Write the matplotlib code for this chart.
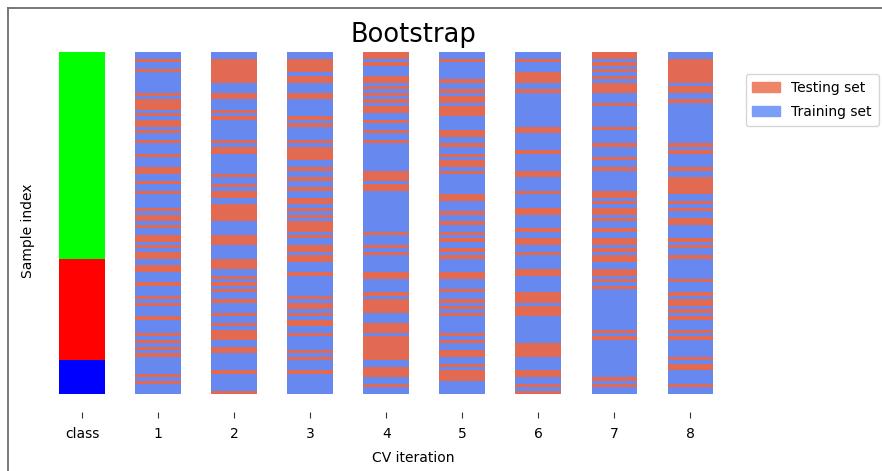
import numpy as np
import matplotlib
matplotlib.use('Agg')
import matplotlib.pyplot as plt
from matplotlib.colors import Normalize
from matplotlib.lines import Line2D
from matplotlib.patches import Patch

n_samples = 100
class_sizes = [10, 30, 60]
fold_labels = ['1', '2', '3', '4', '5', '6', '7', '8']

# out-of-bag (testing) sample indices for each bootstrap iteration
test_fold1 = [98, 95, 88, 86, 85, 84, 82, 80, 79, 77, 74, 70, 66, 65, 62, 59, 54, 52, 51,
              49, 46, 45, 43, 41, 40, 37, 36, 32, 28, 26, 22, 17, 15, 13, 11, 5, 3]
test_fold2 = [98, 97, 96, 95, 94, 93, 92, 88, 87, 83, 81, 74, 72, 71, 64, 61, 59, 58, 55,
              54, 53, 52, 51, 46, 45, 44, 39, 38, 37, 34, 32, 30, 27, 23, 20, 18, 17, 16,
              13, 12, 6, 0]
test_fold3 = [98, 97, 96, 95, 93, 92, 88, 87, 81, 79, 74, 72, 71, 70, 69, 66, 63, 60, 57,
              56, 54, 52, 50, 49, 48, 46, 43, 42, 40, 39, 35, 28, 26, 25, 23, 21, 20, 17,
              12, 10, 6]
test_fold4 = [99, 97, 93, 92, 90, 88, 86, 84, 83, 80, 77, 74, 65, 64, 63, 61, 60, 47, 43,
              41, 35, 34, 29, 27, 26, 25, 24, 20, 19, 18, 16, 15, 14, 13, 12, 11, 10, 7,
              6, 5, 2]
test_fold5 = [98, 92, 89, 87, 86, 84, 83, 82, 77, 76, 73, 70, 68, 67, 65, 58, 57, 53, 50,
              47, 45, 42, 40, 35, 34, 30, 27, 25, 23, 17, 15, 12, 11, 8, 6, 5, 4]
test_fold6 = [98, 94, 93, 92, 89, 78, 77, 71, 65, 64, 59, 54, 53, 48, 45, 44, 41, 36, 35,
              29, 28, 27, 25, 24, 23, 14, 13, 12, 11, 6, 5, 2, 0]
test_fold7 = [99, 97, 95, 93, 91, 90, 89, 85, 78, 73, 69, 66, 59, 58, 56, 54, 53, 51, 48,
              45, 44, 42, 40, 39, 36, 35, 33, 31, 18, 16, 4, 2]
test_fold8 = [98, 97, 96, 95, 94, 93, 92, 90, 89, 86, 73, 71, 66, 63, 62, 61, 60, 59, 56,
              54, 51, 50, 45, 43, 40, 33, 29, 27, 26, 24, 22, 18, 16, 10, 8, 7, 2]

test_folds = [test_fold1, test_fold2, test_fold3, test_fold4,
              test_fold5, test_fold6, test_fold7, test_fold8]

cmap_cv = plt.cm.coolwarm
cmap_data = plt.cm.brg
norm_cv = Normalize(vmin=-.2, vmax=1.2)

W, H = 882, 471
fig = plt.figure(figsize=(W / 100, H / 100), dpi=100)
ax = fig.add_axes([39 / W, 1 - 412 / H, (787 - 39) / W, (412 - 50) / H])

idx = np.arange(n_samples)
bar_w = 0.6

# class column: each sample drawn as a 2-unit band, later samples on top
groups = np.repeat(np.arange(len(class_sizes)), class_sizes)
ax.bar(np.zeros(n_samples), 2, bottom=idx - 1, width=bar_w,
       color=cmap_data(groups / 2), linewidth=0)

for ii, tt in enumerate(test_folds):
    indices = np.zeros(n_samples)
    indices[tt] = 1
    ax.bar(np.full(n_samples, ii + 1), 2, bottom=idx - 1, width=bar_w,
           color=cmap_cv(norm_cv(indices)), linewidth=0)

ax.set_xlim(-0.565, 9.27)
ax.set_ylim(-6.3, 100.6)
ax.set_xticks(range(len(fold_labels) + 1))
ax.set_xticklabels(['class'] + fold_labels, fontsize=10)
ax.tick_params(axis='x', length=4.5, pad=6.3, color='#333333')
ax.set_yticks([])
for sp in ax.spines.values():
    sp.set_visible(False)
ax.set_xlabel('CV iteration', fontsize=10, labelpad=7)
ax.set_ylabel('Sample index', fontsize=10, labelpad=3)
ax.set_title('Bootstrap', fontsize=18.5, pad=6)

fig.legend([Patch(color=cmap_cv(.8)), Patch(color=cmap_cv(.2))],
           ['Testing set', 'Training set'], loc='upper left',
           bbox_to_anchor=(745.5 / W, 1 - 74 / H), borderaxespad=0, fontsize=10,
           labelspacing=0.7, borderpad=0.5)

# frame around the output cell
fig.add_artist(Line2D([7.5 / W, 1], [1 - 7.5 / H] * 2, transform=fig.transFigure,
                      color='#6e6e6e', lw=1.3))
fig.add_artist(Line2D([7.5 / W] * 2, [0, 1 - 7.5 / H], transform=fig.transFigure,
                      color='#6e6e6e', lw=1.3))

fig.savefig('out.png', dpi=100)
